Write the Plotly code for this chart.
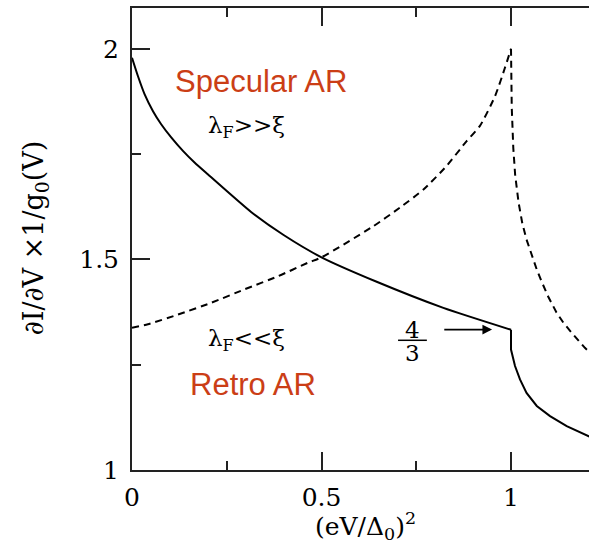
import plotly.graph_objects as go

# ---- data ----
solid_left_x = [0.0, 0.0158, 0.0334, 0.0554, 0.077, 0.104, 0.135, 0.165, 0.2, 0.315,
                0.4, 0.5, 0.6456, 0.8215, 1.0]
solid_left_y = [1.979, 1.935, 1.892, 1.852, 1.821, 1.789, 1.757, 1.73, 1.702, 1.612,
                1.558, 1.505, 1.447, 1.385, 1.333]

solid_right_x = [1.0, 1.0, 1.0106, 1.0237, 1.041, 1.068, 1.103, 1.147, 1.21]
solid_right_y = [1.333, 1.286, 1.247, 1.215, 1.183, 1.152, 1.128, 1.104, 1.078]

dashed_left_x = [0.0, 0.042, 0.121, 0.209, 0.297, 0.385, 0.464, 0.5, 0.637, 0.707,
                 0.769, 0.830, 0.883, 0.918, 0.958, 0.984, 1.0]
dashed_left_y = [1.338, 1.346, 1.369, 1.397, 1.429, 1.46, 1.492, 1.505, 1.579, 1.623,
                 1.666, 1.722, 1.781, 1.817, 1.888, 1.955, 2.0]

dashed_right_x = [1.0, 1.002, 1.006, 1.011, 1.02, 1.03, 1.041, 1.055, 1.068, 1.081,
                  1.098, 1.12, 1.138, 1.16, 1.195, 1.21]
dashed_right_y = [2.0, 1.86, 1.765, 1.70, 1.635, 1.585, 1.547, 1.508, 1.476, 1.447,
                  1.412, 1.374, 1.35, 1.326, 1.29, 1.278]

x_tickvals = [0, 0.5, 1]
x_ticktext = ["0", "0.5", "1"]
y_tickvals = [1, 1.5, 2]
y_ticktext = ["1", "1.5", "2"]
x_minor = [0.25, 0.75]
y_minor = [1.25, 1.75]

label_specular = "Specular AR"
label_retro = "Retro AR"
label_gt = "λ<sub>F</sub>&gt;&gt;ξ"
label_lt = "λ<sub>F</sub>&lt;&lt;ξ"
x_title = "(eV/Δ<sub>0</sub>)<sup>2</sup>"
y_title = "∂I/∂V ×1/g<sub>0</sub>(V)"

RED = "rgb(203,62,22)"
SERIF = "DejaVu Serif"
SANS = "Liberation Sans, Arial, sans-serif"
AX = "#222222"

fig = go.Figure()
common = dict(mode="lines", showlegend=False, hoverinfo="skip")
fig.add_trace(go.Scatter(x=solid_left_x, y=solid_left_y,
                         line=dict(color="black", width=2, shape="spline", smoothing=0.6), **common))
fig.add_trace(go.Scatter(x=solid_right_x, y=solid_right_y,
                         line=dict(color="black", width=2), **common))
fig.add_trace(go.Scatter(x=dashed_left_x, y=dashed_left_y,
                         line=dict(color="black", width=2, dash="7px,5px", shape="spline", smoothing=0.6), **common))
fig.add_trace(go.Scatter(x=dashed_right_x, y=dashed_right_y,
                         line=dict(color="black", width=2, dash="7px,5px"), **common))

fig.update_layout(
    width=589, height=556,
    margin=dict(l=132, r=0, t=8, b=86, autoexpand=False),
    paper_bgcolor="white", plot_bgcolor="white",
    showlegend=False,
)

fig.update_xaxes(
    range=[0, 1.2058], automargin=False, showline=True, linecolor=AX, linewidth=2, mirror="ticks",
    ticks="inside", ticklen=18, tickwidth=2, tickcolor=AX,
    tickvals=x_tickvals, ticktext=x_ticktext,
    minor=dict(tickvals=x_minor, ticks="inside", ticklen=9, tickwidth=2, tickcolor=AX),
    showgrid=False, zeroline=False, ticklabelstandoff=4,
    tickfont=dict(family=SERIF, size=25, color="black"),
)
fig.update_yaxes(
    range=[1, 2.097], automargin=False, showline=True, linecolor=AX, linewidth=2,
    ticks="inside", ticklen=18, tickwidth=2, tickcolor=AX,
    tickvals=y_tickvals, ticktext=y_ticktext,
    minor=dict(tickvals=y_minor, ticks="inside", ticklen=9, tickwidth=2, tickcolor=AX),
    showgrid=False, zeroline=False, ticklabelstandoff=6,
    tickfont=dict(family=SERIF, size=25, color="black"),
)

ann = []
ann.append(dict(x=0.512, y=-0.122, xref="paper", yref="paper", text=x_title, showarrow=False,
                font=dict(family=SERIF, size=25, color="black"), xanchor="center", yanchor="middle"))
ann.append(dict(x=-0.212, y=0.502, xref="paper", yref="paper", text=y_title, showarrow=False,
                textangle=-90, font=dict(family=SERIF, size=27, color="black"),
                xanchor="center", yanchor="middle"))
ann.append(dict(x=0.340, y=1.923, xref="x", yref="y", text=label_specular, showarrow=False,
                font=dict(family=SANS, size=31, color=RED)))
ann.append(dict(x=0.319, y=1.203, xref="x", yref="y", text=label_retro, showarrow=False,
                font=dict(family=SANS, size=31, color=RED)))
ann.append(dict(x=0.303, y=1.815, xref="x", yref="y", text=label_gt, showarrow=False,
                font=dict(family=SERIF, size=23, color="black")))
ann.append(dict(x=0.303, y=1.309, xref="x", yref="y", text=label_lt, showarrow=False,
                font=dict(family=SERIF, size=23, color="black")))
ann.append(dict(x=0.739, y=1.3325, xref="x", yref="y", text="4", showarrow=False,
                font=dict(family=SERIF, size=23, color="black")))
ann.append(dict(x=0.739, y=1.278, xref="x", yref="y", text="3", showarrow=False,
                font=dict(family=SERIF, size=23, color="black")))
ann.append(dict(x=0.95, y=4/3, ax=0.82, ay=4/3, xref="x", yref="y", axref="x", ayref="y",
                text="", showarrow=True, arrowhead=2, arrowsize=1.2, arrowwidth=1.6,
                arrowcolor="black"))
fig.update_layout(annotations=ann)

fig.add_shape(type="line", x0=0.702, x1=0.778, y0=1.308, y1=1.308, xref="x", yref="y",
              line=dict(color="black", width=1.5))

fig.write_html(
    "out.html",
    config={"displayModeBar": False},
    post_script="document.body.style.margin='0';document.body.style.overflow='hidden';",
)
